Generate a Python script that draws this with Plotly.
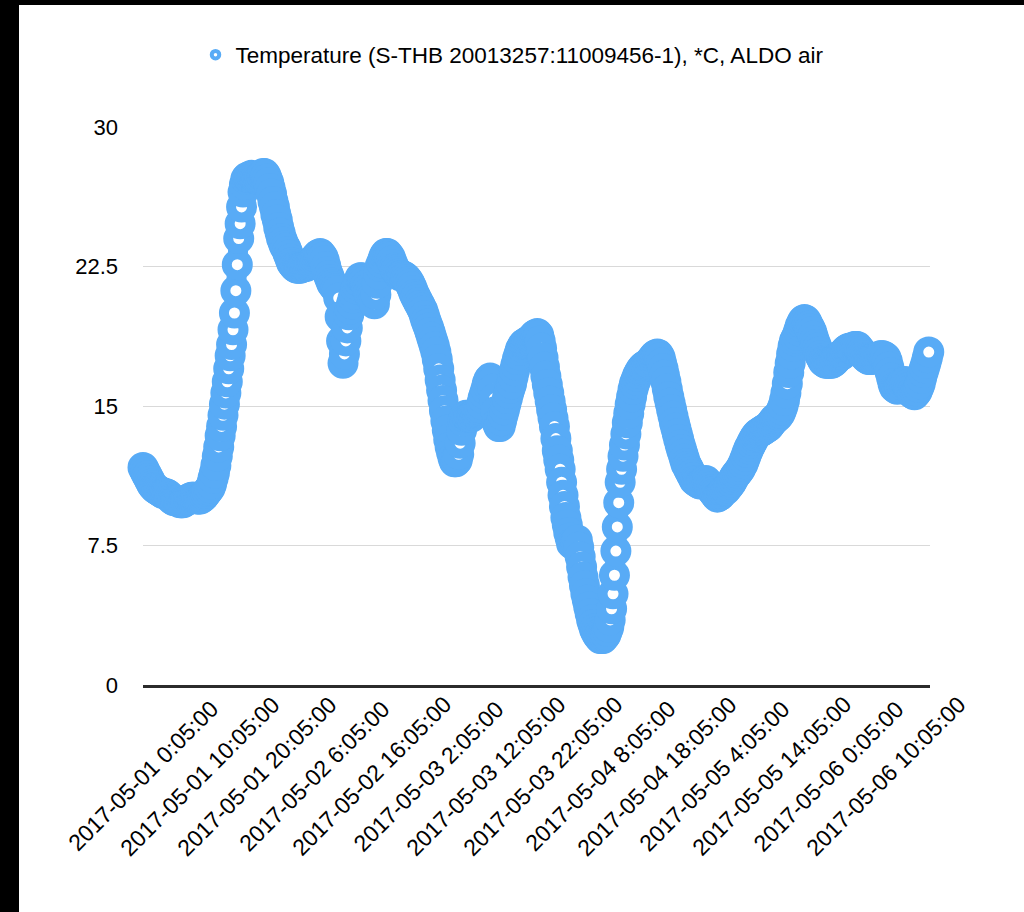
import pandas as pd
import plotly.graph_objects as go

# ---- data (one value every 15 minutes) ----
series_name = "Temperature (S-THB 20013257:11009456-1), *C, ALDO air"
start_time = "2017-05-01 00:05"
sample_step = "15min"
temps = [
    11.7, 11.55, 11.4, 11.25, 11.1, 10.95, 10.8, 10.7, 10.6, 10.55,
    10.5, 10.45, 10.4, 10.35, 10.3, 10.3, 10.3, 10.25, 10.2, 10.1,
    10.0, 9.95, 9.9, 9.9, 9.9, 9.85, 9.8, 9.8, 9.8, 9.85,
    9.9, 9.95, 10.0, 10.05, 10.1, 10.1, 10.1, 10.05, 10.0, 10.0,
    10.0, 10.05, 10.1, 10.2, 10.3, 10.4, 10.5, 10.6, 10.8, 11.1,
    11.4, 11.8, 12.3, 12.8, 13.4, 13.9, 14.5, 15.1, 15.7, 16.3,
    17.0, 17.7, 18.3, 19.1, 20.0, 21.2, 22.6, 24.0, 24.8, 25.7,
    26.5, 26.9, 27.2, 27.3, 27.3, 27.35, 27.4, 27.35, 27.3, 27.25,
    27.2, 27.25, 27.3, 27.4, 27.5, 27.5, 27.4, 27.2, 27.0, 26.7,
    26.4, 26.0, 25.7, 25.3, 25.0, 24.6, 24.3, 24.0, 23.8, 23.6,
    23.5, 23.3, 23.1, 22.9, 22.7, 22.6, 22.5, 22.45, 22.4, 22.4,
    22.4, 22.45, 22.5, 22.5, 22.5, 22.55, 22.6, 22.65, 22.7, 22.8,
    22.9, 23.0, 23.1, 23.15, 23.2, 23.1, 23.0, 22.8, 22.5, 22.2,
    22.0, 21.8, 21.6, 21.5, 21.4, 21.3, 21.2, 20.8, 19.8, 18.5,
    17.3, 17.8, 18.5, 19.2, 19.9, 20.2, 20.5, 20.8, 21.0, 21.3,
    21.5, 21.7, 21.9, 21.9, 21.8, 21.7, 21.5, 21.3, 21.1, 20.9,
    20.8, 20.6, 20.5, 21.0, 21.6, 22.1, 22.5, 22.7, 22.9, 23.1,
    23.2, 23.2, 23.1, 23.0, 22.8, 22.6, 22.4, 22.3, 22.2, 22.1,
    22.0, 22.0, 22.0, 21.95, 21.9, 21.8, 21.7, 21.55, 21.4, 21.2,
    21.0, 20.85, 20.7, 20.55, 20.4, 20.25, 20.1, 19.85, 19.6, 19.4,
    19.2, 18.95, 18.7, 18.45, 18.2, 17.9, 17.5, 17.0, 16.4, 15.85,
    15.3, 14.75, 14.2, 13.7, 13.2, 12.8, 12.5, 12.2, 12.0, 12.0,
    12.1, 12.4, 13.0, 13.7, 14.2, 14.4, 14.5, 14.45, 14.4, 14.4,
    14.4, 14.5, 14.6, 14.65, 14.7, 14.8, 14.9, 15.1, 15.4, 15.65,
    15.9, 16.2, 16.4, 16.5, 16.3, 15.9, 15.4, 14.7, 14.1, 13.9,
    13.9, 14.2, 14.5, 14.8, 15.1, 15.4, 15.7, 15.95, 16.2, 16.55,
    16.9, 17.2, 17.5, 17.75, 18.0, 18.15, 18.3, 18.35, 18.4, 18.45,
    18.5, 18.55, 18.6, 18.7, 18.8, 18.85, 18.9, 18.8, 18.5, 18.1,
    17.6, 17.1, 16.6, 16.15, 15.7, 15.25, 14.8, 14.35, 13.9, 13.25,
    12.6, 12.1, 11.6, 10.9, 10.2, 9.6, 9.0, 8.6, 8.2, 7.9,
    7.6, 7.55, 7.6, 7.7, 7.8, 7.4, 6.9, 6.35, 5.8, 5.35,
    4.9, 4.55, 4.2, 3.85, 3.5, 3.25, 3.0, 2.85, 2.7, 2.6,
    2.5, 2.5, 2.5, 2.6, 2.7, 2.9, 3.1, 3.5, 4.1, 4.9,
    5.9, 7.2, 8.5, 9.8, 10.9, 11.6, 12.3, 12.9, 13.5, 14.1,
    14.6, 15.1, 15.5, 15.9, 16.2, 16.4, 16.6, 16.75, 16.9, 17.0,
    17.1, 17.15, 17.2, 17.25, 17.3, 17.4, 17.5, 17.6, 17.7, 17.75,
    17.8, 17.75, 17.6, 17.3, 17.0, 16.65, 16.3, 15.9, 15.5, 15.15,
    14.8, 14.45, 14.1, 13.8, 13.5, 13.2, 12.9, 12.65, 12.4, 12.15,
    11.9, 11.75, 11.6, 11.45, 11.3, 11.15, 11.0, 10.95, 10.9, 10.85,
    10.8, 10.85, 10.9, 10.95, 11.0, 10.9, 10.8, 10.65, 10.5, 10.4,
    10.3, 10.2, 10.1, 10.15, 10.2, 10.3, 10.4, 10.45, 10.5, 10.6,
    10.7, 10.8, 10.9, 11.05, 11.2, 11.3, 11.4, 11.5, 11.6, 11.75,
    11.9, 12.1, 12.3, 12.5, 12.7, 12.85, 13.0, 13.15, 13.3, 13.4,
    13.5, 13.55, 13.6, 13.65, 13.7, 13.75, 13.8, 13.85, 13.9, 14.0,
    14.1, 14.2, 14.3, 14.35, 14.4, 14.5, 14.6, 14.8, 15.0, 15.3,
    15.7, 16.2, 16.8, 17.3, 17.8, 18.2, 18.5, 18.65, 18.8, 19.05,
    19.3, 19.45, 19.6, 19.65, 19.6, 19.45, 19.3, 19.15, 19.0, 18.75,
    18.5, 18.3, 18.1, 17.9, 17.7, 17.55, 17.4, 17.35, 17.3, 17.3,
    17.3, 17.3, 17.3, 17.35, 17.4, 17.5, 17.6, 17.65, 17.7, 17.75,
    17.8, 17.9, 18.0, 18.05, 18.1, 18.1, 18.1, 18.15, 18.2, 18.2,
    18.2, 18.1, 18.0, 17.9, 17.8, 17.7, 17.6, 17.55, 17.5, 17.5,
    17.5, 17.55, 17.6, 17.6, 17.6, 17.65, 17.7, 17.7, 17.7, 17.65,
    17.6, 17.4, 17.1, 16.8, 16.5, 16.2, 16.0, 15.95, 15.9, 15.95,
    16.0, 16.15, 16.3, 16.3, 16.3, 16.15, 16.0, 15.85, 15.7, 15.65,
    15.6, 15.7, 15.8, 16.0, 16.2, 16.5, 16.8, 17.05, 17.3, 17.6,
    17.9,
]
x_tick_labels = [
    "2017-05-01 0:05:00", "2017-05-01 10:05:00", "2017-05-01 20:05:00",
    "2017-05-02 6:05:00", "2017-05-02 16:05:00", "2017-05-03 2:05:00",
    "2017-05-03 12:05:00", "2017-05-03 22:05:00", "2017-05-04 8:05:00",
    "2017-05-04 18:05:00", "2017-05-05 4:05:00", "2017-05-05 14:05:00",
    "2017-05-06 0:05:00", "2017-05-06 10:05:00",
]
y_tick_values = [0, 7.5, 15, 22.5, 30]
y_tick_labels = ["0", "7.5", "15", "22.5", "30"]
x_range = ["2017-05-01 00:05", "2017-05-06 17:48"]

times = pd.date_range(start_time, periods=len(temps), freq=sample_step)
tick_times = pd.to_datetime(x_tick_labels)

BLUE = "#58ABF6"
FONT = "Liberation Sans, Arial, Helvetica, sans-serif"

W, H = 1024, 912
L, R, T, B = 143, 94, 127, 227
pw, ph = W - L - R, H - T - B


def px_x(p):
    return (p - L) / pw


def px_y(p):
    return (H - B - p) / ph


fig = go.Figure()
fig.add_trace(go.Scatter(
    x=times, y=temps, mode="lines+markers", name=series_name,
    showlegend=False, cliponaxis=False,
    line=dict(color=BLUE, width=20, shape="spline", smoothing=0.5),
    marker=dict(size=21, color="white", line=dict(color=BLUE, width=10)),
))
# legend entry (smaller ring, as in the reference legend)
fig.add_trace(go.Scatter(
    x=[None], y=[None], mode="markers", name=series_name,
    marker=dict(size=7.5, color="white", line=dict(color=BLUE, width=4)),
))

# rotated x tick labels, centred on their ticks
annotations = [
    dict(x=t, y=px_y(776), xref="x", yref="paper", text=lab,
         textangle=-45, showarrow=False, xanchor="center", yanchor="middle",
         font=dict(family=FONT, size=23, color="#000"))
    for t, lab in zip(tick_times, x_tick_labels)
]

fig.update_layout(
    width=W, height=H,
    margin=dict(l=L, r=R, t=T, b=B, pad=0),
    paper_bgcolor="white", plot_bgcolor="white",
    template="none",
    font=dict(family=FONT, size=22, color="#000"),
    showlegend=True,
    legend=dict(
        orientation="h", xref="container", yref="container",
        x=0.5, xanchor="center", y=1 - 55 / H, yanchor="middle",
        font=dict(size=22.5, color="#000"), bgcolor="rgba(0,0,0,0)",
    ),
    annotations=annotations,
    shapes=[
        dict(type="rect", xref="paper", yref="paper", layer="above",
             x0=px_x(0), x1=px_x(19), y0=px_y(H), y1=px_y(0),
             fillcolor="black", line=dict(width=0)),
        dict(type="rect", xref="paper", yref="paper", layer="above",
             x0=px_x(0), x1=px_x(W), y0=px_y(5), y1=px_y(0),
             fillcolor="black", line=dict(width=0)),
    ],
)
fig.update_xaxes(
    type="date", range=x_range, tickvals=tick_times, showticklabels=False,
    showgrid=False, zeroline=False, ticks="",
    showline=True, linecolor="#2b2b2b", linewidth=2.5, automargin=False,
)
fig.update_yaxes(
    range=[0, 30], tickvals=y_tick_values, ticktext=y_tick_labels,
    showgrid=True, gridcolor="#d9d9d9", gridwidth=1,
    zeroline=False, showline=False, ticks="", ticklabelstandoff=24,
    tickfont=dict(size=22, color="#000"), automargin=False,
)

fig.write_html(
    "out.html",
    config={"displayModeBar": False},
    post_script="document.body.style.margin='0';document.body.style.overflow='hidden';",
)
